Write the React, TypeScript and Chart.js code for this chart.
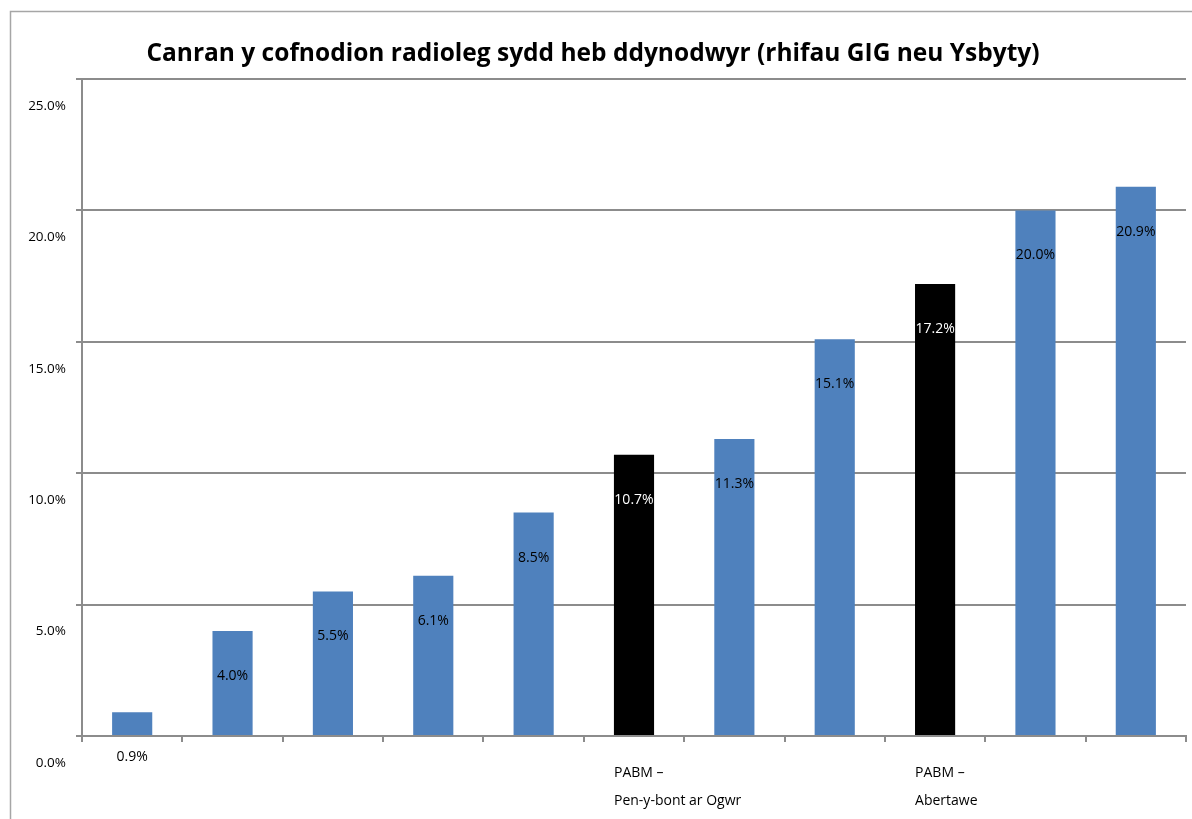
import React, { useEffect, useRef } from 'react';
import { Chart, registerables } from 'chart.js';

Chart.register(...registerables);

const TITLE = 'Canran y cofnodion radioleg sydd heb ddynodwyr (rhifau GIG neu Ysbyty)';
const categories: (string | string[])[] = [
  '', '', '', '', '',
  ['PABM –', 'Pen-y-bont ar Ogwr'],
  '', '',
  ['PABM –', 'Abertawe'],
  '', '',
];
const values = [0.9, 4.0, 5.5, 6.1, 8.5, 10.7, 11.3, 15.1, 17.2, 20.0, 20.9];
const highlighted = [false, false, false, false, false, true, false, false, true, false, false];
const yMin = 0;
const yMax = 25;
const yStep = 5;

const BLUE = '#4f81bd';
const BLACK = '#000000';
const GRID = '#8c8c8c';
const FONT = "'Open Sans', sans-serif";

const frame = {
  id: 'frame',
  beforeDraw(chart: any) {
    const ctx = chart.ctx;
    ctx.save();
    ctx.fillStyle = '#ffffff';
    ctx.fillRect(0, 0, chart.width, chart.height);
    ctx.strokeStyle = '#a6a6a6';
    ctx.lineWidth = 1.5;
    ctx.beginPath();
    ctx.moveTo(10.5, chart.height);
    ctx.lineTo(10.5, 11.5);
    ctx.lineTo(chart.width, 11.5);
    ctx.stroke();
    ctx.restore();
  },
};

const valueLabels = {
  id: 'valueLabels',
  afterDatasetsDraw(chart: any) {
    const ctx = chart.ctx;
    const meta = chart.getDatasetMeta(0);
    ctx.save();
    ctx.font = `14px ${FONT}`;
    ctx.textAlign = 'center';
    ctx.textBaseline = 'middle';
    meta.data.forEach((bar: any, i: number) => {
      ctx.fillStyle = highlighted[i] ? '#ffffff' : '#000000';
      ctx.fillText(values[i].toFixed(1) + '%', bar.x, bar.y + 45);
    });
    ctx.restore();
  },
};

export default function App() {
  const ref = useRef<HTMLCanvasElement>(null);
  useEffect(() => {
    if (!ref.current) return;
    const chart = new Chart(ref.current, {
      type: 'bar',
      data: {
        labels: categories,
        datasets: [
          {
            data: values,
            backgroundColor: highlighted.map((h) => (h ? BLACK : BLUE)),
            borderWidth: 0,
            categoryPercentage: 1,
            barPercentage: 0.4,
          },
        ],
      },
      options: {
        animation: false,
        responsive: true,
        maintainAspectRatio: false,
        layout: { padding: { left: 0, right: 6, top: 0, bottom: 0 } },
        plugins: {
          legend: { display: false },
          tooltip: { enabled: false },
          title: {
            display: true,
            text: TITLE,
            color: '#000000',
            font: { family: FONT, size: 24.5, weight: 'bold', lineHeight: 1.2 },
            padding: { top: 39, bottom: 10.6 },
          },
        },
        scales: {
          x: {
            grid: {
              display: true,
              drawOnChartArea: false,
              drawTicks: true,
              tickLength: 6,
              offset: true,
              color: GRID,
              lineWidth: 2,
            },
            border: { display: true, color: GRID, width: 2 },
            ticks: {
              autoSkip: false,
              maxRotation: 0,
              align: 'start',
              labelOffset: -20,
              padding: 17,
              color: '#000000',
              font: { family: FONT, size: 14, lineHeight: '28px' as any },
            },
            afterFit(scale: any) {
              scale.height = 83;
            },
          },
          y: {
            min: yMin,
            max: yMax,
            grid: {
              color: GRID,
              lineWidth: 2,
              tickLength: 6,
              drawTicks: true,
            },
            border: { display: true, color: GRID, width: 2 },
            ticks: {
              stepSize: yStep,
              labelOffset: 27,
              padding: 10,
              color: '#000000',
              font: { family: FONT, size: 13.5 },
              callback: (v: any) => Number(v).toFixed(1) + '%',
            },
            afterFit(scale: any) {
              scale.width = 82;
            },
          },
        },
      },
      plugins: [frame, valueLabels],
    });
    return () => chart.destroy();
  }, []);
  return (
    <div style={{ position: 'absolute', left: 0, top: 0, width: 1192, height: 819 }}>
      <canvas ref={ref} />
    </div>
  );
}
